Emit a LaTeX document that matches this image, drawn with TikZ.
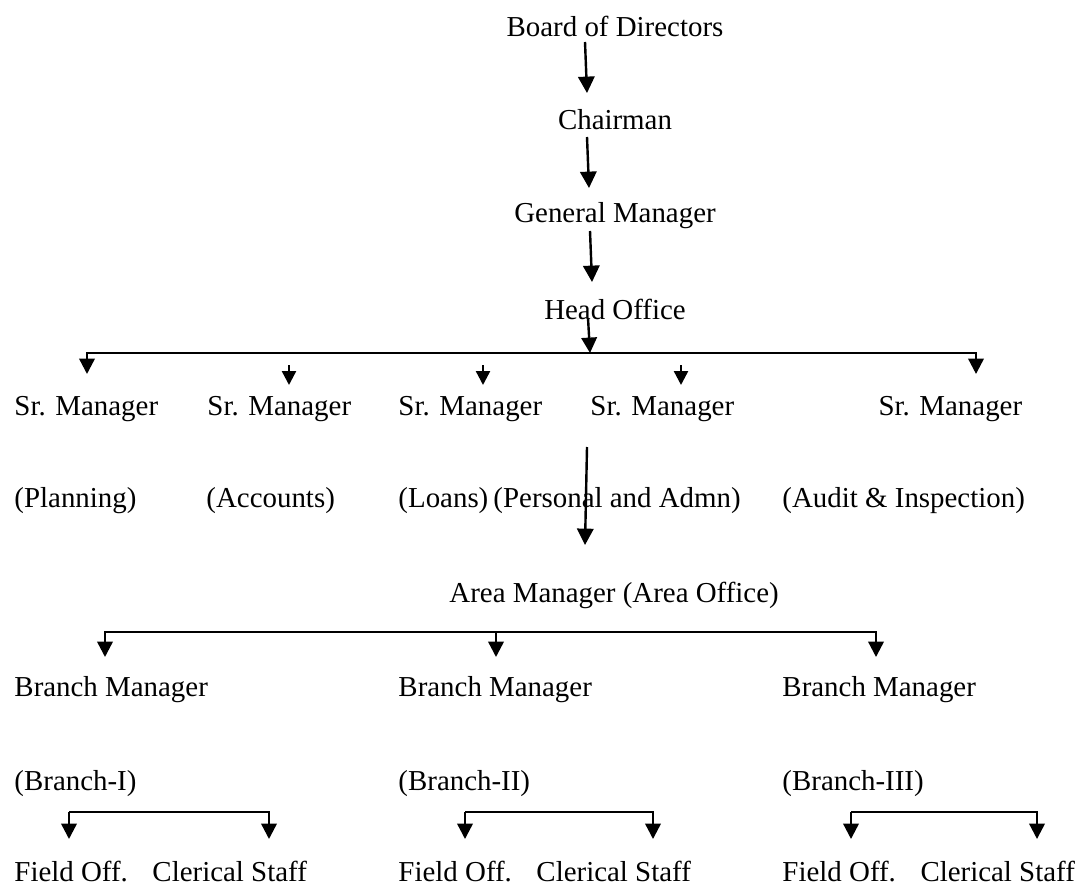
\documentclass[tikz,border=0pt]{standalone}
\usepackage{fontspec}
\setmainfont{Liberation Serif}
\usetikzlibrary{arrows.meta}
\begin{document}
\begin{tikzpicture}[x=0.4152pt,y=-0.4152pt,
  lbl/.style={inner sep=0pt,anchor=base west,font=\fontsize{12}{14}\selectfont},
  ctr/.style={lbl,anchor=base},
  link/.style={line width=1pt},
  bigarrow/.style={link,-{Triangle[length=6.8pt,width=6.8pt]}},
  midarrow/.style={link,-{Triangle[length=6.4pt,width=6.4pt]}},
  smallarrow/.style={link,-{Triangle[length=5.8pt,width=5.8pt]}}]
\useasboundingbox (0,0) rectangle (1079,887);

% --- top of the hierarchy ---
\node[ctr] (bod)   at (615,37)  {Board of Directors};
\node[ctr] (chair) at (615,130) {Chairman};
\node[ctr] (gm)    at (615,223) {General Manager};
\node[ctr] (ho)    at (615,319) {Head Office};

\coordinate (bod-out)   at (585,42);
\coordinate (chair-in)  at (587,93);
\coordinate (chair-out) at (587,137);
\coordinate (gm-in)     at (589,188);
\coordinate (gm-out)    at (590,231);
\coordinate (ho-in)     at (592,282);
\coordinate (ho-out)    at (588,318);
\coordinate (bar-hit)   at (590,353);

\draw[bigarrow] (bod-out) -- (chair-in);
\draw[bigarrow] (chair-out) -- (gm-in);
\draw[bigarrow] (gm-out) -- (ho-in);
\draw[midarrow] (ho-out) -- (bar-hit);

% --- senior managers ---
\node[lbl] (s1) at (14,415)  {Sr. Manager};
\node[lbl] (s2) at (207,415) {Sr. Manager};
\node[lbl] (s3) at (398,415) {Sr. Manager};
\node[lbl] (s4) at (590,415) {Sr. Manager};
\node[lbl] (s5) at (878,415) {Sr. Manager};

\node[lbl] (p1) at (14,507)  {(Planning)};
\node[lbl] (p2) at (206,507) {(Accounts)};
\node[lbl] (p3) at (398,507) {(Loans)};
\node[lbl] (p4) at (493,507) {(Personal and Admn)};
\node[lbl] (p5) at (782,507) {(Audit \& Inspection)};

\coordinate (s1-in) at (87,374);
\coordinate (s5-in) at (976,374);
\draw[midarrow] (bar-hit) -| (s1-in);
\draw[midarrow] (bar-hit) -| (s5-in);

\coordinate (s2-top) at (289,365); \coordinate (s2-in) at (289,385);
\coordinate (s3-top) at (483,365); \coordinate (s3-in) at (483,385);
\coordinate (s4-top) at (681,365); \coordinate (s4-in) at (681,385);
\draw[smallarrow] (s2-top) -- (s2-in);
\draw[smallarrow] (s3-top) -- (s3-in);
\draw[smallarrow] (s4-top) -- (s4-in);

% --- area office ---
\node[lbl] (am) at (449,602) {Area Manager (Area Office)};
\coordinate (p4-out) at (587,447);
\coordinate (am-in)  at (585,545);
\draw[bigarrow] (p4-out) -- (am-in);

% --- branches ---
\coordinate (br-mid) at (496,632);
\coordinate (b1-in)  at (105,657);
\coordinate (b2-in)  at (496,657);
\coordinate (b3-in)  at (876,657);
\draw[midarrow] (br-mid) -| (b1-in);
\draw[midarrow] (br-mid) -| (b3-in);
\draw[midarrow] (br-mid) -- (b2-in);

\node[lbl] (bm1) at (14,696)  {Branch Manager};
\node[lbl] (bm2) at (398,696) {Branch Manager};
\node[lbl] (bm3) at (782,696) {Branch Manager};

\node[lbl] (bp1) at (14,790)  {(Branch-I)};
\node[lbl] (bp2) at (398,790) {(Branch-II)};
\node[lbl] (bp3) at (782,790) {(Branch-III)};

\node[lbl] (fo1) at (14,881)  {Field Off.};
\node[lbl] (fo2) at (398,881) {Field Off.};
\node[lbl] (fo3) at (782,881) {Field Off.};
\node[lbl] (cs1) at (152,881) {Clerical Staff};
\node[lbl] (cs2) at (536,881) {Clerical Staff};
\node[lbl] (cs3) at (920,881) {Clerical Staff};

% --- staff under each branch ---
\coordinate (f1-top) at (69,812);  \coordinate (f1-in) at (69,839);
\coordinate (c1-in)  at (269,839);
\coordinate (f2-top) at (465,812); \coordinate (f2-in) at (465,839);
\coordinate (c2-in)  at (653,839);
\coordinate (f3-top) at (851,812); \coordinate (f3-in) at (851,839);
\coordinate (c3-in)  at (1037,839);
\draw[midarrow] (f1-top) -- (f1-in);
\draw[midarrow] (f1-top) -| (c1-in);
\draw[midarrow] (f2-top) -- (f2-in);
\draw[midarrow] (f2-top) -| (c2-in);
\draw[midarrow] (f3-top) -- (f3-in);
\draw[midarrow] (f3-top) -| (c3-in);
\end{tikzpicture}
\end{document}
